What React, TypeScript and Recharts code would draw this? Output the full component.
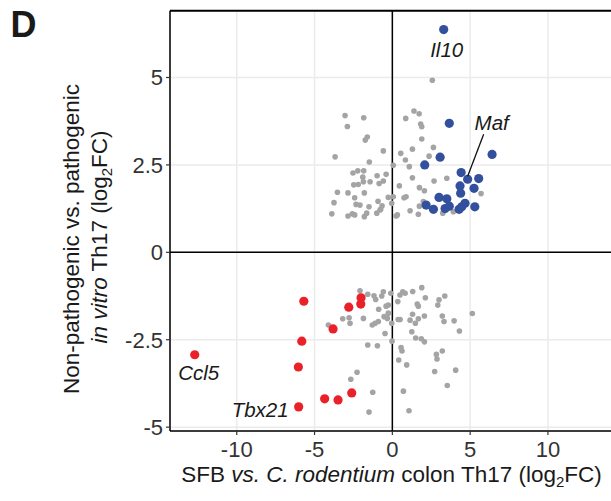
import React from "react";
import {
  ScatterChart,
  Scatter,
  XAxis,
  YAxis,
  CartesianGrid,
  ReferenceLine,
} from "recharts";

// ---------- data ----------
const xTicks = [-10, -5, 0, 5, 10];
const yTicks = [-5, -2.5, 0, 2.5, 5];
const xDomain = [-14.29, 14.29];
const yDomain = [-5.11, 6.91];

// genes not significant in both comparisons (grey)
const otherGenes = [
  { x: -3.04, y: 3.91 }, { x: -1.84, y: 3.85 }, { x: -2.89, y: 3.6 }, { x: -1.61, y: 3.3 },
  { x: -1.74, y: 3.21 }, { x: -0.58, y: 2.9 }, { x: -3.68, y: 2.73 }, { x: -1.48, y: 2.58 },
  { x: 0.06, y: 2.49 }, { x: -2.53, y: 2.27 }, { x: -2.22, y: 2.33 }, { x: -1.84, y: 2.33 },
  { x: -1.9, y: 2.15 }, { x: -0.98, y: 2.19 }, { x: -0.4, y: 2.23 }, { x: -2.48, y: 1.93 },
  { x: -2.19, y: 1.94 }, { x: -1.86, y: 2.02 }, { x: -1.43, y: 2.02 }, { x: -0.85, y: 1.97 },
  { x: -0.58, y: 2.04 }, { x: -3.53, y: 1.72 }, { x: -2.85, y: 1.7 }, { x: -1.8, y: 1.7 },
  { x: -2.42, y: 1.56 }, { x: -0.26, y: 1.57 }, { x: 0.06, y: 1.59 }, { x: -3.75, y: 1.42 },
  { x: -2.33, y: 1.37 }, { x: -2.08, y: 1.35 }, { x: -1.5, y: 1.3 }, { x: -0.92, y: 1.46 },
  { x: -0.66, y: 1.33 }, { x: -0.75, y: 1.23 }, { x: -0.04, y: 1.4 }, { x: -3.89, y: 1.1 },
  { x: -2.85, y: 1.04 }, { x: -2.57, y: 1.1 }, { x: -2.42, y: 1.07 }, { x: -1.8, y: 1.02 },
  { x: -1.65, y: 1.12 }, { x: -1.0, y: 1.12 }, { x: -0.79, y: 1.21 }, { x: 0.32, y: 1.07 },
  { x: 2.57, y: 4.92 }, { x: 0.86, y: 3.83 }, { x: 1.39, y: 4.04 }, { x: 1.72, y: 3.96 },
  { x: 1.82, y: 3.67 }, { x: 1.89, y: 3.59 }, { x: 1.89, y: 3.24 }, { x: 2.64, y: 3.0 },
  { x: 0.54, y: 2.83 }, { x: 1.29, y: 2.95 }, { x: 0.84, y: 2.64 }, { x: 2.36, y: 2.75 },
  { x: 1.09, y: 2.45 }, { x: 1.29, y: 2.13 }, { x: 2.68, y: 2.04 }, { x: 3.5, y: 2.12 },
  { x: 0.45, y: 1.9 }, { x: 1.74, y: 1.85 }, { x: 2.06, y: 1.76 }, { x: 5.7, y: 1.68 },
  { x: 0.75, y: 1.56 }, { x: 0.88, y: 1.59 }, { x: 1.74, y: 1.32 }, { x: 1.99, y: 1.45 },
  { x: 1.14, y: 1.19 }, { x: 1.67, y: 1.09 }, { x: 0.24, y: 1.04 }, { x: 3.24, y: 1.12 },
  { x: 3.92, y: 1.16 },
  { x: -2.08, y: -1.1 }, { x: -1.58, y: -1.2 }, { x: -1.18, y: -1.24 }, { x: -1.07, y: -1.35 },
  { x: -0.68, y: -1.25 }, { x: -0.58, y: -1.13 }, { x: -0.26, y: -1.51 }, { x: -0.4, y: -1.54 },
  { x: -0.1, y: -1.17 }, { x: -0.88, y: -1.63 }, { x: -1.86, y: -1.89 }, { x: -2.78, y: -1.87 },
  { x: -3.19, y: -1.9 }, { x: -2.72, y: -2.03 }, { x: -4.11, y: -2.08 }, { x: -1.29, y: -2.08 },
  { x: -1.11, y: -2.03 }, { x: -0.9, y: -1.98 }, { x: -0.53, y: -1.84 }, { x: -0.32, y: -1.89 },
  { x: -0.26, y: -1.74 }, { x: -0.47, y: -2.32 }, { x: -0.04, y: -2.03 }, { x: -0.02, y: -2.54 },
  { x: -1.58, y: -2.65 }, { x: -0.96, y: -2.67 }, { x: -2.67, y: -3.63 }, { x: -2.27, y: -3.43 },
  { x: -1.26, y: -4.0 }, { x: -1.5, y: -4.57 },
  { x: 0.35, y: -1.41 }, { x: 0.49, y: -1.22 }, { x: 0.67, y: -1.13 }, { x: 0.82, y: -1.17 },
  { x: 1.31, y: -1.12 }, { x: 1.89, y: -1.01 }, { x: 2.12, y: -1.3 }, { x: 3.0, y: -1.36 },
  { x: 2.92, y: -1.51 }, { x: 3.37, y: -1.25 }, { x: 1.67, y: -1.54 }, { x: 1.6, y: -1.48 },
  { x: 1.3, y: -1.77 }, { x: 1.14, y: -1.94 }, { x: 0.37, y: -1.92 }, { x: 0.5, y: -1.92 },
  { x: 1.67, y: -1.9 }, { x: 2.06, y: -1.82 }, { x: 1.48, y: -2.03 }, { x: 3.21, y: -1.82 },
  { x: 3.32, y: -1.98 }, { x: 3.97, y: -1.96 }, { x: 4.31, y: -2.25 }, { x: 5.14, y: -1.75 },
  { x: 1.25, y: -2.27 }, { x: 1.5, y: -2.45 }, { x: 1.86, y: -2.47 }, { x: 2.06, y: -2.56 },
  { x: 0.56, y: -2.72 }, { x: 0.62, y: -2.82 }, { x: 0.41, y: -3.08 }, { x: 0.92, y: -3.22 },
  { x: 2.83, y: -2.92 }, { x: 2.87, y: -3.05 }, { x: 3.21, y: -2.82 }, { x: 2.72, y: -3.41 },
  { x: 4.07, y: -3.37 }, { x: 3.53, y: -3.81 }, { x: 0.71, y: -3.97 }, { x: 1.07, y: -4.53 },
];

// up in non-pathogenic & SFB (blue)
const upGenes = [
  { x: 3.3, y: 6.37, gene: "Il10" }, { x: 3.66, y: 3.69 }, { x: 3.07, y: 2.72 }, { x: 2.08, y: 2.5 },
  { x: 6.41, y: 2.8 }, { x: 4.42, y: 2.28 }, { x: 4.84, y: 2.09, gene: "Maf" }, { x: 5.55, y: 2.11 },
  { x: 4.35, y: 1.9 }, { x: 5.25, y: 1.83 }, { x: 4.39, y: 1.69 }, { x: 3.0, y: 1.57 },
  { x: 3.5, y: 1.53 }, { x: 2.17, y: 1.35 }, { x: 2.64, y: 1.23 }, { x: 3.39, y: 1.25 },
  { x: 3.66, y: 1.32 }, { x: 4.67, y: 1.4 }, { x: 4.46, y: 1.3 }, { x: 4.29, y: 1.23 },
  { x: 5.3, y: 1.3 },
];

// up in pathogenic & C. rodentium (red)
const downGenes = [
  { x: -5.69, y: -1.4 }, { x: -5.82, y: -2.54 }, { x: -12.7, y: -2.93, gene: "Ccl5" },
  { x: -6.04, y: -3.28 }, { x: -6.02, y: -4.42, gene: "Tbx21" }, { x: -4.35, y: -4.19 },
  { x: -3.49, y: -4.22 }, { x: -2.61, y: -4.02 }, { x: -3.81, y: -2.19 }, { x: -2.8, y: -1.57 },
  { x: -2.01, y: -1.3 }, { x: -2.03, y: -1.48 },
];

const labeledGenes = [...upGenes, ...downGenes].filter((d) => d.gene);

// ---------- styles ----------
const FONT = "'Liberation Sans', Arial, Helvetica, sans-serif";
const GREY = "#a4a4a4";
const BLUE = "#33509f";
const RED = "#ea2128";

const dot = (r: number, fill: string) => (props: any) => {
  const { cx, cy } = props;
  if (cx == null || cy == null) return <g />;
  return <circle cx={cx} cy={cy} r={r} fill={fill} />;
};

const labelStyle: Record<string, { dx: number; dy: number; anchor: string; line?: boolean }> = {
  Il10: { dx: 3, dy: 27, anchor: "middle" },
  Maf: { dx: 24, dy: -49, anchor: "middle", line: true },
  Ccl5: { dx: 4, dy: 25, anchor: "middle" },
  Tbx21: { dx: -10, dy: 10, anchor: "end" },
};

const GeneLabel = (props: any) => {
  const { cx, cy, payload } = props;
  if (cx == null || cy == null) return <g />;
  const s = labelStyle[payload.gene];
  return (
    <g>
      {s.line && (
        <line x1={cx} y1={cy - 3} x2={cx + 16} y2={cy - 45} stroke="#111" strokeWidth={1.3} />
      )}
      <text
        x={cx + s.dx}
        y={cy + s.dy}
        textAnchor={s.anchor}
        fontFamily={FONT}
        fontStyle="italic"
        fontSize={20.5}
        fill="#1a1a1a"
      >
        {payload.gene}
      </text>
    </g>
  );
};

export default function App() {
  return (
    <div
      style={{
        position: "absolute",
        left: 0,
        top: 0,
        width: 611,
        height: 501,
        overflow: "hidden",
        background: "#fff",
      }}
    >
      <div style={{ position: "absolute", left: 0, top: 0 }}>
        <ScatterChart
          width={640}
          height={501}
          margin={{ top: 10.7, right: 25.3, bottom: 0, left: 0 }}
        >
          <CartesianGrid stroke="#ebebeb" strokeWidth={1.5} />
          <XAxis
            type="number"
            dataKey="x"
            domain={xDomain}
            ticks={xTicks}
            allowDataOverflow
            height={70}
            tickSize={4}
            tickMargin={6}
            axisLine={{ stroke: "#000", strokeWidth: 1.5 }}
            tickLine={{ stroke: "#333", strokeWidth: 1.2 }}
            tick={{ fill: "#333", fontSize: 22, fontFamily: FONT }}
          />
          <YAxis
            type="number"
            dataKey="y"
            domain={yDomain}
            ticks={yTicks}
            allowDataOverflow
            width={170}
            tickSize={4}
            tickMargin={3}
            axisLine={{ stroke: "#000", strokeWidth: 1.5 }}
            tickLine={{ stroke: "#333", strokeWidth: 1.2 }}
            tick={{ fill: "#333", fontSize: 22, fontFamily: FONT }}
          />
          <ReferenceLine y={yDomain[1]} stroke="#000" strokeWidth={2} />
          <ReferenceLine x={0} stroke="#000" strokeWidth={1.5} />
          <ReferenceLine y={0} stroke="#000" strokeWidth={1.5} />
          <Scatter data={otherGenes} shape={dot(2.8, GREY)} isAnimationActive={false} />
          <Scatter data={downGenes} shape={dot(4.6, RED)} isAnimationActive={false} />
          <Scatter data={upGenes} shape={dot(4.6, BLUE)} isAnimationActive={false} />
          <Scatter data={labeledGenes} shape={GeneLabel} isAnimationActive={false} />
        </ScatterChart>
      </div>
      <svg
        width={611}
        height={501}
        style={{ position: "absolute", left: 0, top: 0, pointerEvents: "none" }}
      >
        <text x={10.5} y={36.7} fontFamily={FONT} fontWeight="bold" fontSize={36} fill="#1a1a1a">
          D
        </text>
        <g transform="translate(79,239) rotate(-90)">
          <text x={0} y={0} textAnchor="middle" fontFamily={FONT} fontSize={22.5} fill="#1a1a1a">
            Non-pathogenic vs. pathogenic
          </text>
        </g>
        <g transform="translate(107,237) rotate(-90)">
          <text x={0} y={0} textAnchor="middle" fontFamily={FONT} fontSize={22.5} fill="#1a1a1a">
            <tspan fontStyle="italic">in vitro</tspan>
            <tspan> Th17 (log</tspan>
            <tspan fontSize={15} dy={5}>2</tspan>
            <tspan dy={-5}>FC)</tspan>
          </text>
        </g>
        <text x={391.5} y={481.7} textAnchor="middle" fontFamily={FONT} fontSize={22.5} fill="#1a1a1a">
          <tspan>SFB </tspan>
          <tspan fontStyle="italic">vs. C. rodentium</tspan>
          <tspan> colon Th17 (log</tspan>
          <tspan fontSize={15} dy={5}>2</tspan>
          <tspan dy={-5}>FC)</tspan>
        </text>
      </svg>
    </div>
  );
}
